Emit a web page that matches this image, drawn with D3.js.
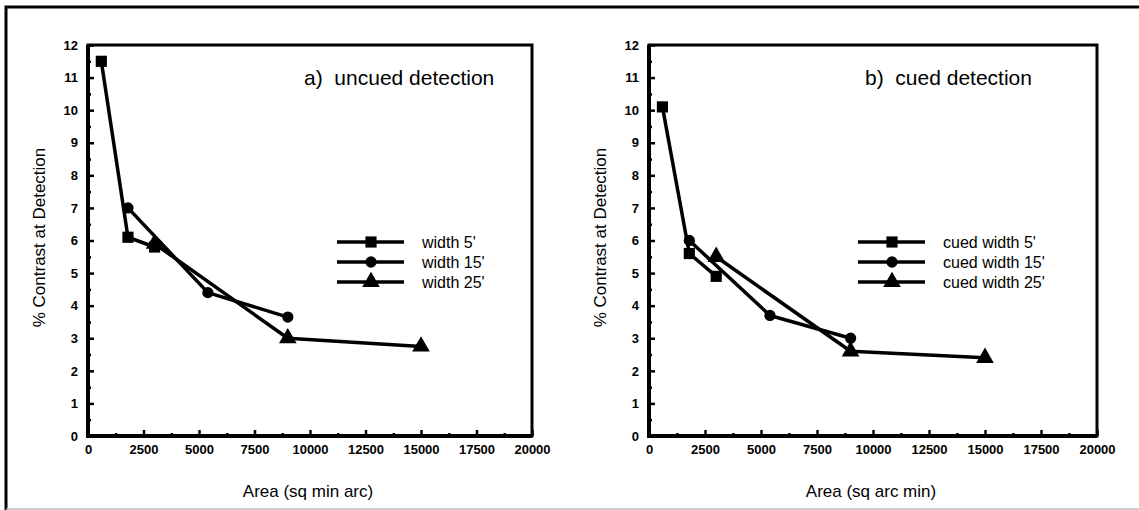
<!DOCTYPE html>
<html>
<head>
<meta charset="utf-8">
<script src="https://cdn.jsdelivr.net/npm/d3@7"></script>
<style>
  body { margin: 0; background: #fff; }
  svg { display: block; font-family: "Liberation Sans", Arial, sans-serif; }
</style>
</head>
<body>
<svg id="chart"></svg>
<script>
const width = 1139, height = 510;

// Areas (sq arc min) per target width
const areaW5 = [600, 1800, 3000];
const areaW15 = [1800, 5400, 9000];
const areaW25 = [3000, 9000, 15000];

// % contrast at detection, uncued
const uncuedW5 = [11.5, 6.1, 5.8];
const uncuedW15 = [7.0, 4.4, 3.65];
const uncuedW25 = [5.9, 3.0, 2.75];

// % contrast at detection, cued
const cuedW5 = [10.1, 5.6, 4.9];
const cuedW15 = [6.0, 3.7, 3.0];
const cuedW25 = [5.5, 2.6, 2.4];

const uncuedNames = ["width 5'", "width 15'", "width 25'"];
const cuedNames = ["cued width 5'", "cued width 15'", "cued width 25'"];
const markerTypes = ["square", "circle", "triangle"];

const xTicks = [0, 2500, 5000, 7500, 10000, 12500, 15000, 17500, 20000];
const yTicks = [0, 1, 2, 3, 4, 5, 6, 7, 8, 9, 10, 11, 12];

const panels = [
  { x0: 88, x1: 532, title: "a)  uncued detection", xLabel: "Area (sq min arc)",
    names: uncuedNames, values: [uncuedW5, uncuedW15, uncuedW25], legendX: 337 },
  { x0: 649, x1: 1097, title: "b)  cued detection", xLabel: "Area (sq arc min)",
    names: cuedNames, values: [cuedW5, cuedW15, cuedW25], legendX: 858 }
];
const areas = [areaW5, areaW15, areaW25];
const plotTop = 45, plotBottom = 436;

const svg = d3.select("#chart").attr("width", width).attr("height", height);

// outer figure border (left + top dark, bottom faint as in the scan)
svg.append("path").attr("d", "M6,510 V7 H1139")
  .attr("fill", "none").attr("stroke", "#000").attr("stroke-width", 3);
svg.append("line").attr("x1", 6).attr("x2", 1139).attr("y1", 509).attr("y2", 509)
  .attr("stroke", "#bbb").attr("stroke-width", 1.5);

const symbolGen = {
  square: d3.symbol().type(d3.symbolSquare).size(125),
  circle: d3.symbol().type(d3.symbolCircle).size(100),
  triangle: d3.symbol().type(d3.symbolTriangle).size(135)
};

const styleLabels = a => a.selectAll("text")
  .attr("font-size", 13).attr("font-weight", "bold")
  .attr("font-family", "Liberation Sans, Arial, sans-serif").attr("fill", "#000");

panels.forEach(p => {
  const x = d3.scaleLinear().domain([0, 20000]).range([p.x0, p.x1]);
  const y = d3.scaleLinear().domain([0, 12]).range([plotBottom, plotTop]);
  const g = svg.append("g");

  // minor ticks
  g.append("g").attr("transform", `translate(${p.x0},0)`)
    .call(d3.axisLeft(y).tickValues(d3.range(0.5, 12, 1)).tickSize(-3).tickFormat(""))
    .call(a => a.select(".domain").remove())
    .selectAll("line").attr("stroke-width", 2.5);
  g.append("g").attr("transform", `translate(0,${plotBottom})`)
    .call(d3.axisBottom(x).tickValues(d3.range(1250, 20000, 2500)).tickSize(-3).tickFormat(""))
    .call(a => a.select(".domain").remove())
    .selectAll("line").attr("stroke-width", 2.5);

  // major ticks and labels
  g.append("g").attr("transform", `translate(${p.x0},0)`)
    .call(d3.axisLeft(y).tickValues(yTicks).tickSize(-6).tickPadding(10).tickFormat(d3.format("d")))
    .call(a => a.select(".domain").remove())
    .call(a => a.selectAll("line").attr("stroke-width", 2.5))
    .call(styleLabels);
  g.append("g").attr("transform", `translate(0,${plotBottom})`)
    .call(d3.axisBottom(x).tickValues(xTicks).tickSize(-6).tickPadding(9).tickFormat(d3.format("d")))
    .call(a => a.select(".domain").remove())
    .call(a => a.selectAll("line").attr("stroke-width", 2.5))
    .call(styleLabels);

  // plot frame: heavier left/bottom axes
  g.append("rect")
    .attr("x", p.x0).attr("y", plotTop).attr("width", p.x1 - p.x0).attr("height", plotBottom - plotTop)
    .attr("fill", "none").attr("stroke", "#000").attr("stroke-width", 3);
  g.append("path").attr("d", `M${p.x0},${plotTop} V${plotBottom} H${p.x1}`)
    .attr("fill", "none").attr("stroke", "#000").attr("stroke-width", 4);

  // axis titles
  g.append("text")
    .attr("transform", `translate(${p.x0 - 43},${(plotTop + plotBottom) / 2 - 3}) rotate(-90)`)
    .attr("text-anchor", "middle").attr("font-size", 17)
    .text("% Contrast at Detection");
  g.append("text")
    .attr("x", (p.x0 + p.x1) / 2 - 2).attr("y", 497)
    .attr("text-anchor", "middle").attr("font-size", 17)
    .text(p.xLabel);

  // panel title
  g.append("text")
    .attr("x", p.x0 + 216).attr("y", 85)
    .attr("font-size", 21).style("white-space", "pre")
    .text(p.title);

  // series
  const line = d3.line().x(d => x(d[0])).y(d => y(d[1]));
  p.values.forEach((vals, i) => {
    const pts = vals.map((v, j) => [areas[i][j], v]);
    g.append("path").attr("d", line(pts))
      .attr("fill", "none").attr("stroke", "#000").attr("stroke-width", 3.5)
      .attr("stroke-linejoin", "round");
    g.selectAll(null).data(pts).enter().append("path")
      .attr("transform", d => `translate(${x(d[0])},${y(d[1])})`)
      .attr("d", symbolGen[markerTypes[i]]())
      .attr("fill", "#000");
  });

  // legend
  p.names.forEach((name, i) => {
    const ly = 242 + i * 20;
    const lg = g.append("g").attr("transform", `translate(${p.legendX},${ly})`);
    lg.append("line").attr("x1", 0).attr("x2", 67).attr("y1", 0).attr("y2", 0)
      .attr("stroke", "#000").attr("stroke-width", 3.5);
    lg.append("path").attr("transform", "translate(34,0)")
      .attr("d", symbolGen[markerTypes[i]]()).attr("fill", "#000");
    lg.append("text").attr("x", 85).attr("y", 6).attr("font-size", 16).text(name);
  });
});
</script>
</body>
</html>
